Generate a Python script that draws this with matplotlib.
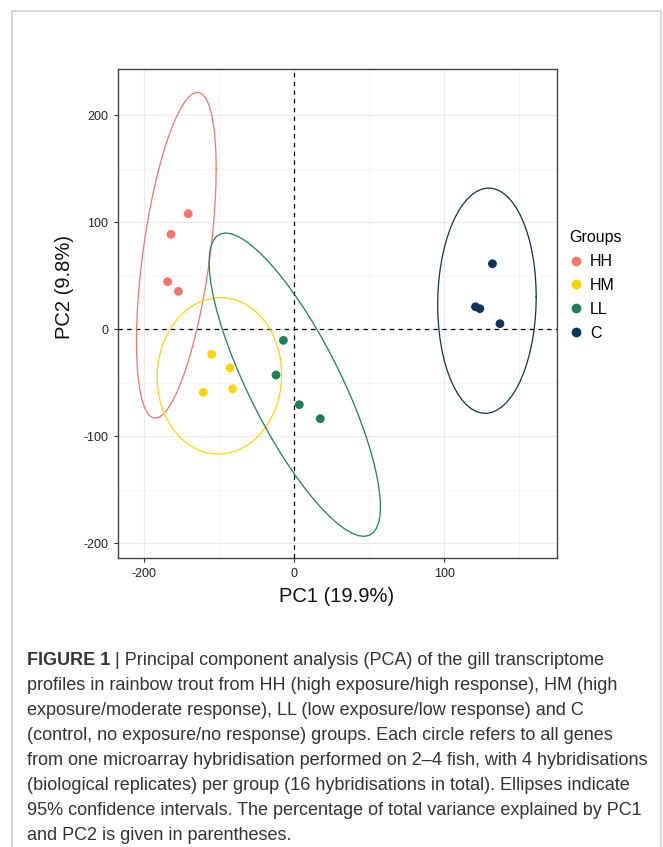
import numpy as np
import matplotlib
matplotlib.use('Agg')
import matplotlib.pyplot as plt
from matplotlib.lines import Line2D
from matplotlib.patches import Rectangle
from matplotlib.ticker import FixedLocator

# PCA scores (PC1 on the plotted scale, PC2)
groups = ['HH', 'HM', 'LL', 'C']
group_colors = ['#F6756B', '#FDD507', '#1C7E5C', '#0A3458']

hh_pc1 = [-70.7, -82.2, -84.4, -77.3]
hh_pc2 = [107.8, 88.5, 44.2, 35.2]
hm_pc1 = [-55.1, -42.9, -60.7, -41.1]
hm_pc2 = [-23.7, -36.4, -59.2, -55.8]
ll_pc1 = [-7.3, -12.2, 3.3, 17.3]
ll_pc2 = [-10.6, -43.0, -70.7, -83.8]
c_pc1 = [132.0, 120.7, 123.6, 137.0]
c_pc2 = [61.0, 20.8, 19.0, 5.0]

x_ticks = [-100, 0, 100]
x_tick_labels = ['-200', '0', '100']
y_ticks = [-200, -100, 0, 100, 200]

caption_lines = [
    'profiles in rainbow trout from HH (high exposure/high response), HM (high',
    'exposure/moderate response), LL (low exposure/low response) and C',
    '(control, no exposure/no response) groups. Each circle refers to all genes',
    'from one microarray hybridisation performed on 2\u20134 fish, with 4 hybridisations',
    '(biological replicates) per group (16 hybridisations in total). Ellipses indicate',
    '95% confidence intervals. The percentage of total variance explained by PC1',
    'and PC2 is given in parentheses.',
]
caption_head = 'FIGURE 1'
caption_first = ' | Principal component analysis (PCA) of the gill transcriptome'

plt.rcParams['font.family'] = ['Liberation Sans', 'DejaVu Sans']
plt.rcParams['axes.unicode_minus'] = False

W, H = 663, 847


def conf_ellipse(x, y, level=0.95, segments=61):
    """95% normal-theory ellipse, same recipe as ggplot2 stat_ellipse(type='norm')"""
    pts = np.column_stack([x, y])
    center = pts.mean(axis=0)
    shape = np.cov(pts, rowvar=False)
    dfd = len(x) - 1
    f = dfd / 2.0 * ((1 - level) ** (-2.0 / dfd) - 1)
    radius = np.sqrt(2 * f)
    t = np.linspace(0, 2 * np.pi, segments)
    circle = np.column_stack([np.cos(t), np.sin(t)])
    chol = np.linalg.cholesky(shape).T
    return center + radius * circle @ chol


fig = plt.figure(figsize=(W / 100, H / 100), dpi=100)

# light frame around the whole panel
fig.patches.append(Rectangle((12 / W, -0.02), (661 - 12) / W, 1.02 - 11 / H,
                             transform=fig.transFigure, fill=False,
                             edgecolor='#D2D2D2', linewidth=1.3))

ax = fig.add_axes([118 / W, 1 - 558 / H, (557 - 118) / W, (558 - 69) / H])

series = [(hh_pc1, hh_pc2), (hm_pc1, hm_pc2), (ll_pc1, ll_pc2), (c_pc1, c_pc2)]
for (px, py), col in zip(series, group_colors):
    ell = conf_ellipse(px, py)
    ax.plot(ell[:, 0], ell[:, 1], color=col, linewidth=0.9, zorder=3)
    ax.scatter(px, py, s=40, color=col, edgecolors='none', zorder=4)

ax.axhline(0, color='black', linewidth=0.9, linestyle=(0, (3.5, 3.5)), zorder=2)
ax.axvline(0, color='black', linewidth=0.9, linestyle=(0, (3.5, 3.5)), zorder=2)

ax.set_xlim(-117.5, 175)
ax.set_ylim(-214, 243)
ax.set_xticks(x_ticks)
ax.set_xticklabels(x_tick_labels)
ax.set_yticks(y_ticks)
ax.xaxis.set_minor_locator(FixedLocator([-50, 50, 150]))
ax.yaxis.set_minor_locator(FixedLocator([-150, -50, 50, 150]))
ax.grid(True, which='major', color='#EBEBEB', linewidth=0.8, zorder=0)
ax.grid(True, which='minor', color='#F3F3F3', linewidth=0.6, zorder=0)
ax.set_axisbelow(True)
ax.tick_params(which='major', length=3, width=0.8, color='#333333',
               labelsize=9, labelcolor='#222222', pad=4)
ax.tick_params(which='minor', length=0)
for sp in ax.spines.values():
    sp.set_color('#444444')
    sp.set_linewidth(1.0)

fig.text(337 / W, 1 - 597 / H, 'PC1 (19.9%)', ha='center', va='center',
         fontsize=14.5, color='#111111')
fig.text(64 / W, 1 - 287 / H, 'PC2 (9.8%)', ha='center', va='center',
         rotation=90, fontsize=14.5, color='#111111')

handles = [Line2D([], [], linestyle='none', marker='o', markersize=7,
                  markerfacecolor=c, markeredgecolor='none') for c in group_colors]
leg = fig.legend(handles, groups, title='Groups', loc='upper left',
                 bbox_to_anchor=(563 / W, 1 - 224 / H), frameon=False,
                 fontsize=11.5, title_fontsize=11.5, handlelength=0.8,
                 handletextpad=0.5, labelspacing=0.55, borderaxespad=0)
leg._legend_box.align = 'left'

# caption, sized so the longest line spans the same width as the original
renderer = fig.canvas.get_renderer()
probe = fig.text(0, 0, caption_lines[3], fontsize=10)
fs = 10 * 621 / probe.get_window_extent(renderer).width
probe.remove()

text_color = '#333333'
x0 = 27 / W
base = 665
head = fig.text(x0, 1 - base / H, caption_head, fontsize=fs, fontweight='bold',
                color=text_color, va='baseline')
hw = head.get_window_extent(renderer).width / W
fig.text(x0 + hw, 1 - base / H, caption_first, fontsize=fs, color=text_color,
         va='baseline')
for i, line in enumerate(caption_lines, start=1):
    fig.text(x0, 1 - (base + 25 * i) / H, line, fontsize=fs, color=text_color,
             va='baseline')

fig.savefig('out.png', dpi=100)
